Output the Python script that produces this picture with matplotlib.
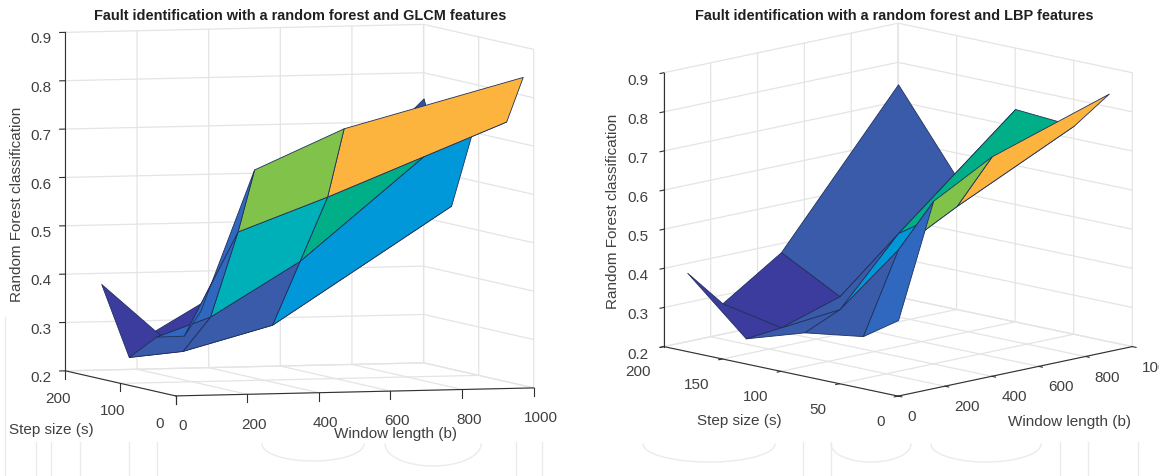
import matplotlib
matplotlib.use("Agg")
import matplotlib.pyplot as plt
import numpy as np
from mpl_toolkits.mplot3d import proj3d

plt.rcParams['font.family'] = ['Liberation Sans', 'DejaVu Sans']

window_lengths = [100, 250, 500, 1000]
step_sizes = [20, 50, 100, 150, 200]

glcm_scores = [
    [0.369, 0.659, 0.740, 0.838],
    [0.310, 0.523, 0.591, 0.738],
    [0.295, 0.334, 0.445, 0.750],
    [0.240, 0.250, 0.300, 0.538],
    [0.378, 0.279, 0.386, 0.747],
]
lbp_scores = [
    [0.369, 0.655, 0.737, 0.834],
    [0.309, 0.512, 0.591, 0.733],
    [0.287, 0.327, 0.490, 0.744],
    [0.240, 0.249, 0.297, 0.538],
    [0.376, 0.279, 0.378, 0.744],
]
BLUE_D = '#3B3C9E'
BLUE_M = '#3A5BA9'
BLUE_B = '#2F68BE'
CYAN = '#0098D8'
TEAL = '#00B0B8'
SEA = '#00AE88'
LIME = '#80C24A'
ORANGE = '#FDB43F'
glcm_faces = [
    [BLUE_B, LIME, ORANGE],
    [BLUE_B, TEAL, SEA],
    [BLUE_M, BLUE_M, CYAN],
    [BLUE_D, BLUE_D, '#3350A8'],
]
lbp_faces = [
    [BLUE_B, LIME, ORANGE],
    [BLUE_M, CYAN, SEA],
    [BLUE_M, BLUE_M, CYAN],
    [BLUE_D, BLUE_D, BLUE_M],
]
TEXT = '#404040'
GRID = '#e4e4e4'
WATERMARK = '#ebebeb'


def fit_axes(fig, ax, targets):
    """Move a square 3D axes so that projected box corners land on target pixels."""
    fig.canvas.draw()
    M = ax.get_proj()
    got = []
    for (x, y, z) in targets:
        u, v, _ = proj3d.proj_transform(x, y, z, M)
        got.append(ax.transData.transform((u, v)))
    got = np.array(got)
    want = np.array([[px, fig.bbox.height - py] for px, py in targets.values()])
    ratio = np.linalg.norm(np.ptp(want, axis=0)) / np.linalg.norm(np.ptp(got, axis=0))
    pos = ax.get_position()
    W, H = fig.bbox.width, fig.bbox.height
    side = pos.width * W * ratio
    cx, cy = (pos.x0 + pos.width / 2) * W, (pos.y0 + pos.height / 2) * H
    new_got = np.array([cx, cy]) + (got - np.array([cx, cy])) * ratio
    shift = (want - new_got).mean(axis=0)
    ncx, ncy = cx + shift[0], cy + shift[1]
    ax.set_position([(ncx - side / 2) / W, (ncy - side / 2) / H, side / W, side / H])


def panel(fig, rect, scores, faces, elev, azim, aspect, xt, yt, targets, title, title_xy,
          xlab_xy, ylab_xy, zlab_xy, pads, drop_ticks, xha, yha):
    ax = fig.add_axes(rect, projection='3d', proj_type='ortho', computed_zorder=False)
    ax.patch.set_alpha(0)
    ax.view_init(elev=elev, azim=azim)
    ax.set_box_aspect(aspect, zoom=1.0)
    X, Y = np.meshgrid(window_lengths, step_sizes)
    Z = np.array(scores)
    # far cells first: a height field seen from low x, low y is painted back to front
    order = 0
    for i in range(Z.shape[0] - 2, -1, -1):
        for j in range(Z.shape[1] - 2, -1, -1):
            ax.plot_surface(X[i:i + 2, j:j + 2], Y[i:i + 2, j:j + 2], Z[i:i + 2, j:j + 2],
                            color=faces[i][j], shade=False, edgecolor='#20305a', linewidth=0.6,
                            rstride=1, cstride=1, zorder=order)
            order += 1
    ax.set_xlim(0, 1000)
    ax.set_ylim(0, 200)
    ax.set_zlim(0.2, 0.9)
    ax.set_xticks(xt)
    ax.set_yticks(yt)
    ax.set_zticks([0.2, 0.3, 0.4, 0.5, 0.6, 0.7, 0.8, 0.9])
    ax.set_zticklabels(['0.2', '0.3', '0.4', '0.5', '0.6', '0.7', '0.8', '0.9'])
    for axis, pad in zip((ax.xaxis, ax.yaxis, ax.zaxis), pads):
        axis.set_pane_color((1, 1, 1, 0))
        axis.pane.set_edgecolor(GRID)
        axis._axinfo['grid']['color'] = GRID
        axis._axinfo['grid']['linewidth'] = 0.9
        axis._axinfo['axisline']['color'] = '#303030'
        axis._axinfo['axisline']['linewidth'] = 0.8
        axis._axinfo['tick']['inward_factor'] = 0.2
        axis._axinfo['tick']['outward_factor'] = 0.0
        axis.line.set_color('#303030')
        axis.line.set_linewidth(0.8)
        axis.set_tick_params(labelsize=11, labelcolor=TEXT, color='#303030', width=0.7, pad=pad)
    if drop_ticks:
        for axis in (ax.xaxis, ax.yaxis):
            axis._get_tickdir = lambda position: 2
            axis._axinfo['tick']['inward_factor'] = 0.0
            axis._axinfo['tick']['outward_factor'] = 0.3
    plt.setp(ax.get_xticklabels(), ha=xha)
    plt.setp(ax.get_yticklabels(), ha=yha)
    fit_axes(fig, ax, targets)
    fig.text(*title_xy, title, ha='center', va='center', fontsize=10.45, fontweight='bold', color='#202020')
    fig.text(*xlab_xy, 'Window length (b)', ha='center', va='center', fontsize=11, color=TEXT)
    fig.text(*ylab_xy, 'Step size (s)', ha='center', va='center', fontsize=11, color=TEXT)
    fig.text(*zlab_xy, 'Random Forest classification', ha='center', va='center', fontsize=11,
             color=TEXT, rotation=90)
    return ax


fig = plt.figure(figsize=(11.59, 4.77), dpi=100)
fig.patch.set_facecolor('white')
W, H = 1159, 477

# faint publisher watermark behind the charts, in pixel coordinates
bg = fig.add_axes([0, 0, 1, 1], zorder=-1)
bg.set_xlim(0, W)
bg.set_ylim(H, 0)
bg.axis('off')
wm_stems = [(5, 318), (36, 443), (51, 443), (80, 443), (129, 443), (157, 443), (516, 443), (542, 443),
            (803, 443), (831, 443), (1060, 443), (1088, 443), (1138, 443)]
wm_bowls = [(313, 51, 445, 17), (433, 48, 445, 22), (709, 66, 445, 18), (871, 40, 445, 18), (986, 55, 445, 18)]
for x0, y0 in wm_stems:
    bg.plot([x0, x0], [y0, 477], color=WATERMARK, lw=1)
for cx, a, y0, b in wm_bowls:
    t = np.linspace(0, np.pi, 60)
    bg.plot(cx + a * np.cos(t), y0 + b * np.sin(t), color=WATERMARK, lw=1)

panel(fig, [0.02, 0.1, 0.4, 0.4 * W / H], glcm_scores, glcm_faces, 4.09, -107.4, (375, 368, 339),
      [0, 200, 400, 600, 800, 1000], [0, 100, 200],
      {(0, 0, 0.2): (175.6, 397), (1000, 0, 0.2): (533.5, 389), (0, 200, 0.2): (65.5, 372), (0, 200, 0.9): (65.5, 33)},
      'Fault identification with a random forest and GLCM features', (300 / W, 1 - 16 / H),
      (395 / W, 1 - 434 / H), (51 / W, 1 - 430 / H), (17 / W, 1 - 204 / H), (6, 5, 4), True, 'center', 'left')

panel(fig, [0.52, 0.1, 0.4, 0.4 * W / H], lbp_scores, lbp_faces, 12.2, -135, (331, 331, 280),
      [0, 200, 400, 600, 800, 1000], [0, 50, 100, 150, 200],
      {(0, 0, 0.2): (898, 397), (1000, 0, 0.2): (1132, 349), (0, 200, 0.2): (664, 347), (0, 200, 0.9): (664, 73)},
      'Fault identification with a random forest and LBP features', (894 / W, 1 - 16 / H),
      (1070 / W, 1 - 422 / H), (739 / W, 1 - 421 / H), (613 / W, 1 - 211 / H), (0, 3, 3), False, 'left', 'right')

fig.savefig('out.png', dpi=100)
